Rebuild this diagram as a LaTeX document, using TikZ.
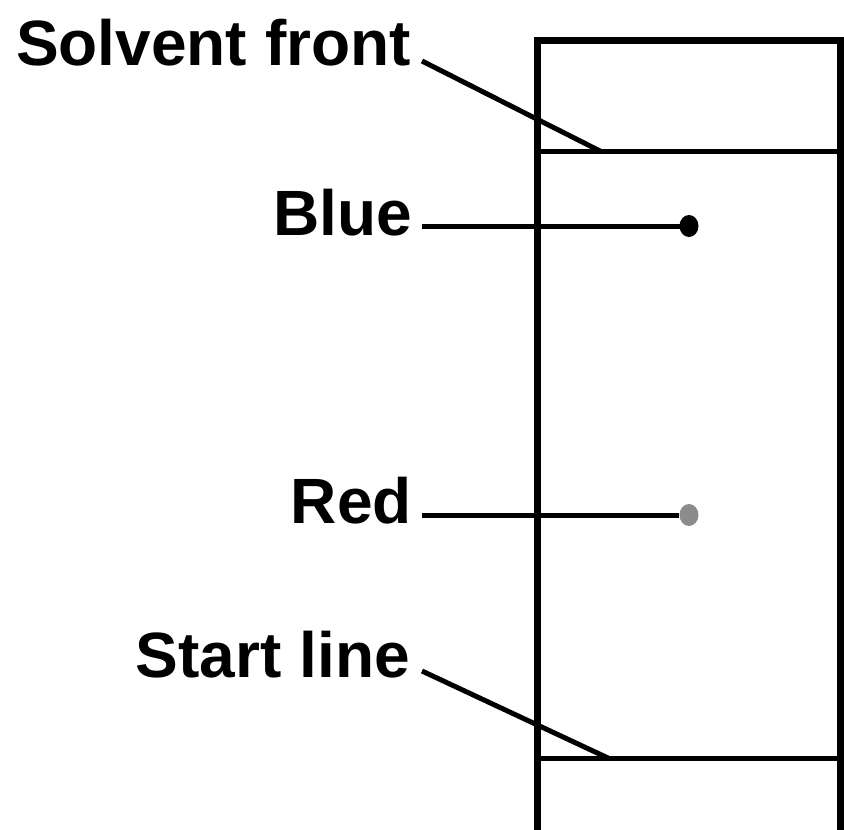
\documentclass[tikz,border=0pt]{standalone}
\usepackage{fontspec}
\setmainfont{Liberation Sans}
\usepackage{xcolor}
\usetikzlibrary{shapes.geometric}

\begin{document}
\begin{tikzpicture}[
    x=1pt, y=-1pt,
    label/.style={inner sep=0pt, anchor=base east, font=\fontsize{64}{64}\selectfont\bfseries},
    plate/.style={line width=7pt},
    mark line/.style={line width=5pt},
    leader/.style={line width=5pt},
    spot/.style={ellipse, inner sep=0pt, minimum width=19pt, minimum height=22pt}
]
\clip (0,0) rectangle (844,830);

% Plate
\draw[plate] (537,900) -- (537,40) -- (840,40) -- (840,900);
\draw[mark line] (537,151) -- (840,151);
\draw[mark line] (537,758) -- (840,758);

% Spots
\node[spot, fill=black] (bluespot) at (689,226) {};
\node[spot, fill=black!45] (redspot) at (689,515) {};

% Labels
\node[label] (solvent) at (411,65) {Solvent front};
\node[label] (blue) at (412,235) {Blue};
\node[label] (red) at (412,523) {Red};
\node[label] (start) at (410,677) {Start line};

\coordinate (frontpt) at (600,151);
\coordinate (startpt) at (608,758);

% Leaders
\draw[leader] ([xshift=11pt,yshift=4pt]solvent.base east) -- (frontpt);
\draw[leader] ([xshift=10pt,yshift=9pt]blue.base east) -- (bluespot.center);
\draw[leader] ([xshift=10pt,yshift=8pt]red.base east) -- (redspot.west);
\draw[leader] ([xshift=12pt,yshift=6pt]start.base east) -- (startpt);
\end{tikzpicture}
\end{document}
